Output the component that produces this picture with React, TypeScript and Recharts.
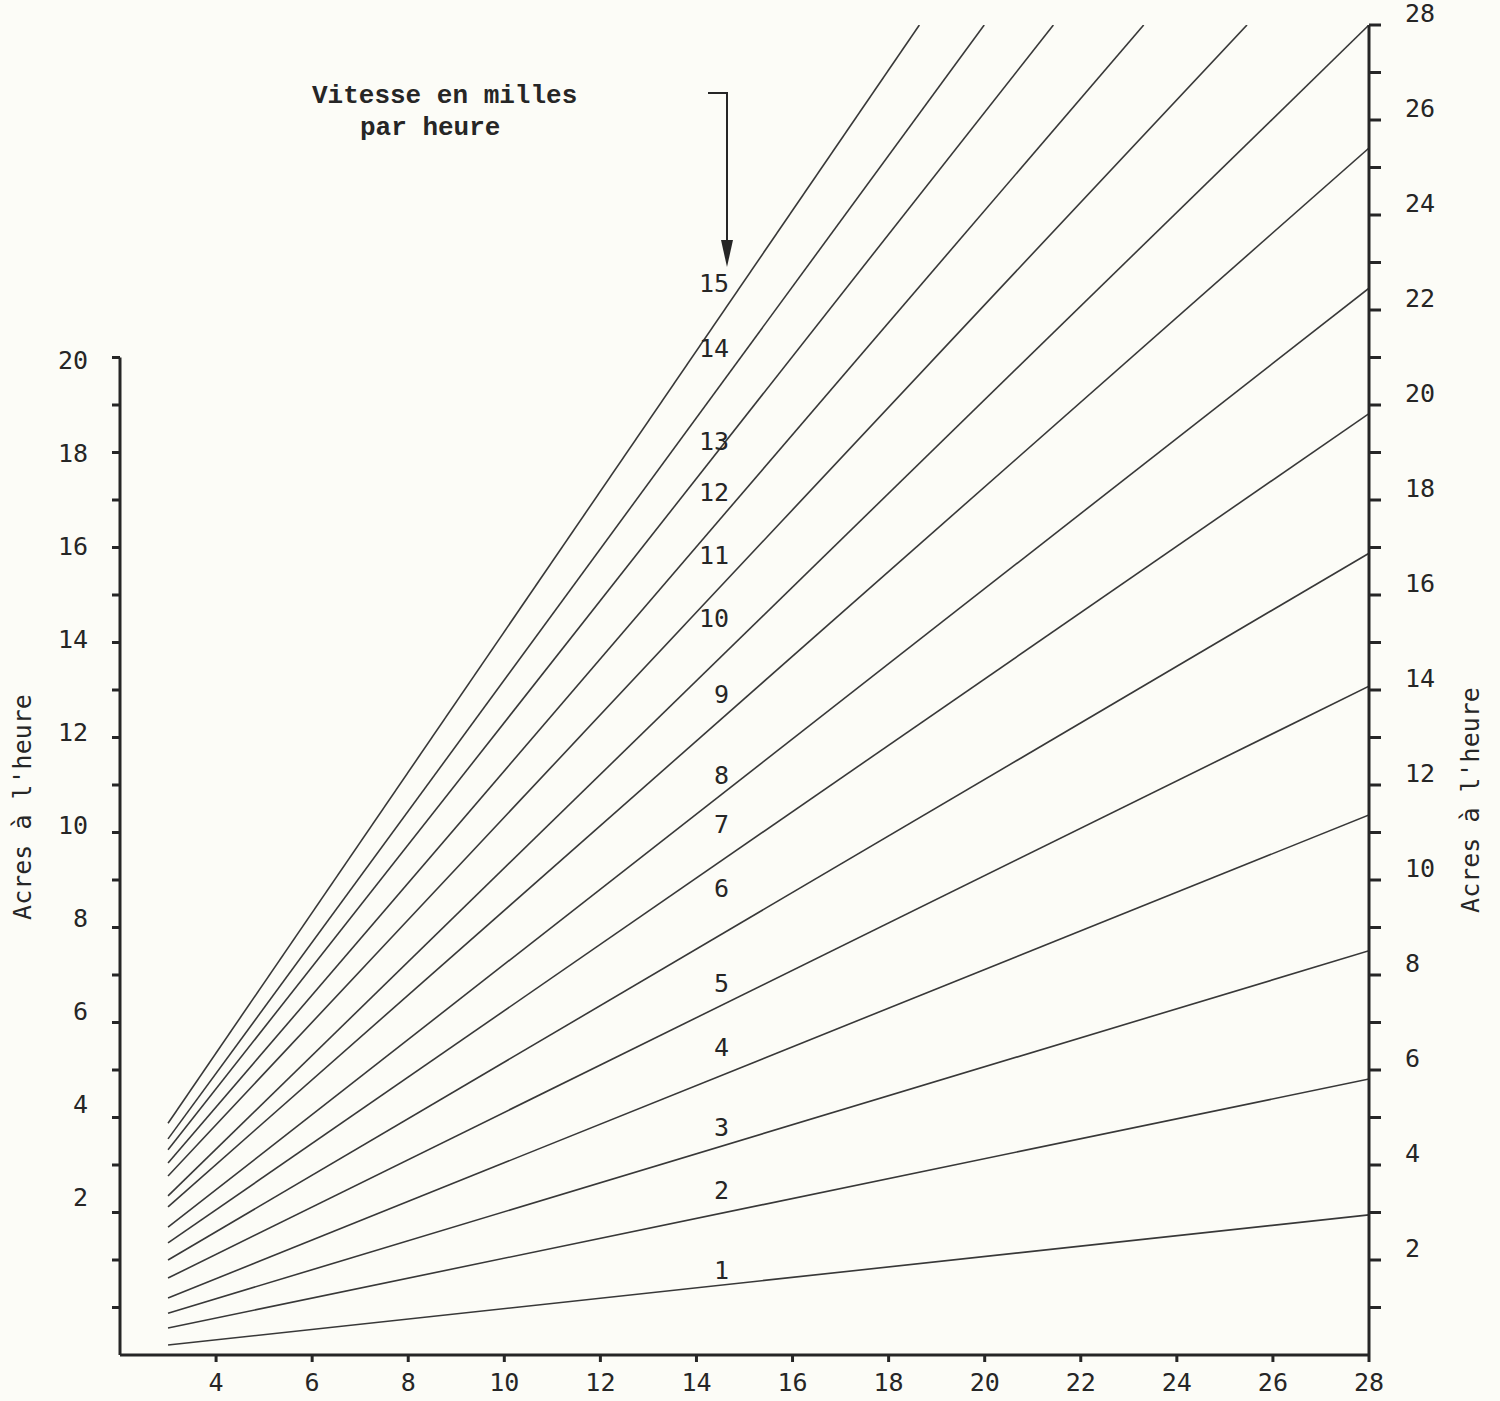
import React from "react";
import {
  ComposedChart,
  Line,
  Scatter,
  XAxis,
  YAxis,
  ReferenceLine,
} from "recharts";

// largeur de travail (pieds) en x, acres à l'heure en y
const speeds = [1, 2, 3, 4, 5, 6, 7, 8, 9, 10, 11, 12, 13, 14, 15];
const startX = [3, 3, 3, 3, 3, 3, 3, 3, 3, 3, 3, 3, 3, 3, 3];
const startY = [0.21, 0.57, 0.88, 1.2, 1.62, 2.0, 2.36, 2.69, 3.12, 3.35, 3.77, 4.04, 4.32, 4.55, 4.88];
const endX = [28, 28, 28, 28, 28, 28, 28, 28, 28, 28, 25.46, 23.31, 21.43, 19.99, 18.64];
const endY = [2.95, 5.81, 8.51, 11.37, 14.08, 16.88, 19.82, 22.46, 25.41, 28, 28, 28, 28, 28, 28];
const labelX = 14.68;
const labelY = [1.79, 3.47, 4.8, 6.48, 7.83, 9.83, 11.18, 12.21, 13.92, 15.52, 16.84, 18.17, 19.24, 21.2, 22.57];

const xTicks = [4, 6, 8, 10, 12, 14, 16, 18, 20, 22, 24, 26, 28];
const leftTickMarks = [0, 1, 2, 3, 4, 5, 6, 7, 8, 9, 10, 11, 12, 13, 14, 15, 16, 17, 18, 19, 20];
const leftLabels = [2, 4, 6, 8, 10, 12, 14, 16, 18, 20];
const rightTicks = [1, 2, 3, 4, 5, 6, 7, 8, 9, 10, 11, 12, 13, 14, 15, 16, 17, 18, 19, 20, 21, 22, 23, 24, 25, 26, 27, 28];

const INK = "#262626";
const LINE = "#383838";
const FONT = "'DejaVu Sans Mono', monospace";
const TYPE = "'Liberation Mono', 'Courier New', monospace";

const lines = speeds.map((s, i) => ({
  speed: s,
  data: [
    { x: startX[i], y: startY[i] },
    { x: endX[i], y: endY[i] },
  ],
}));

const labels = speeds.map((s, i) => ({ x: labelX, y: labelY[i], label: String(s) }));

const rightTick = (p: any) => {
  const v = p.payload.value;
  if (v % 2 !== 0) return <g />;
  return (
    <text x={p.x} y={p.y - 12} dy="0.35em" textAnchor="start" fontFamily={FONT} fontSize={25} fill={INK}>
      {v}
    </text>
  );
};

const noLabel = () => <g />;

const leftTick = (p: any) => (
  <text x={p.x} y={p.y} dy="0.35em" textAnchor="end" fontFamily={FONT} fontSize={25} fill={INK}>
    {p.payload.value}
  </text>
);

const bottomTick = (p: any) => (
  <text x={p.x} y={p.y} dy="0.71em" textAnchor="middle" fontFamily={FONT} fontSize={25} fill={INK}>
    {p.payload.value}
  </text>
);

const speedLabel = (p: any) => (
  <text x={p.cx} y={p.cy} dy="0.35em" textAnchor="end" fontFamily={FONT} fontSize={25} fill={INK}>
    {p.payload.label}
  </text>
);

export default function App() {
  return (
    <div style={{ position: "absolute", left: 0, top: 0, width: 1500, height: 1401, background: "#fcfcf7" }}>
      <ComposedChart width={1500} height={1401} margin={{ top: 25, right: 51, bottom: 6, left: 60 }}>
        <XAxis
          type="number"
          dataKey="x"
          domain={[2, 28]}
          ticks={xTicks}
          allowDataOverflow
          height={40}
          tickSize={7}
          tickMargin={11}
          tick={bottomTick}
          axisLine={{ stroke: INK, strokeWidth: 3 }}
          tickLine={{ stroke: INK, strokeWidth: 3 }}
        />
        <YAxis
          yAxisId="aTicks"
          type="number"
          domain={[-1, 27]}
          ticks={leftTickMarks}
          allowDataOverflow
          width={8}
          tickSize={8}
          tick={noLabel}
          axisLine={false}
          tickLine={{ stroke: INK, strokeWidth: 3 }}
        />
        <YAxis
          yAxisId="left"
          type="number"
          domain={[-1.4, 27.2]}
          ticks={leftLabels}
          allowDataOverflow
          width={52}
          tickSize={0}
          tickMargin={24}
          tick={leftTick}
          axisLine={false}
          tickLine={false}
        />
        <YAxis
          yAxisId="right"
          orientation="right"
          type="number"
          domain={[0, 28]}
          ticks={rightTicks}
          allowDataOverflow
          width={80}
          tickSize={12}
          tickMargin={24}
          tick={rightTick}
          axisLine={{ stroke: INK, strokeWidth: 3 }}
          tickLine={{ stroke: INK, strokeWidth: 3 }}
        />
        <ReferenceLine
          yAxisId="aTicks"
          segment={[
            { x: 2, y: -1 },
            { x: 2, y: 20 },
          ]}
          stroke={INK}
          strokeWidth={3}
          ifOverflow="visible"
        />
        {lines.map((l) => (
          <Line
            key={l.speed}
            yAxisId="right"
            data={l.data}
            dataKey="y"
            type="linear"
            stroke={LINE}
            strokeWidth={1.6}
            dot={false}
            activeDot={false}
            isAnimationActive={false}
          />
        ))}
        <Scatter yAxisId="right" data={labels} dataKey="y" shape={speedLabel} isAnimationActive={false} />
      </ComposedChart>
      <svg width={1500} height={1401} style={{ position: "absolute", left: 0, top: 0, pointerEvents: "none" }}>
        <text x={312} y={103} fontFamily={TYPE} fontSize={26} fontWeight="bold" fill={INK}>
          Vitesse en milles
        </text>
        <text x={360} y={135} fontFamily={TYPE} fontSize={26} fontWeight="bold" fill={INK}>
          par heure
        </text>
        <path d="M708 93 H727 V250" fill="none" stroke={INK} strokeWidth={2} />
        <polygon points="721,240 733,240 727,267" fill={INK} />
        <text
          x={0}
          y={0}
          transform="translate(31 807) rotate(-90)"
          textAnchor="middle"
          fontFamily={FONT}
          fontSize={25}
          fill={INK}
        >
          Acres à l'heure
        </text>
        <text
          x={0}
          y={0}
          transform="translate(1479 800) rotate(-90)"
          textAnchor="middle"
          fontFamily={FONT}
          fontSize={25}
          fill={INK}
        >
          Acres à l'heure
        </text>
      </svg>
    </div>
  );
}
